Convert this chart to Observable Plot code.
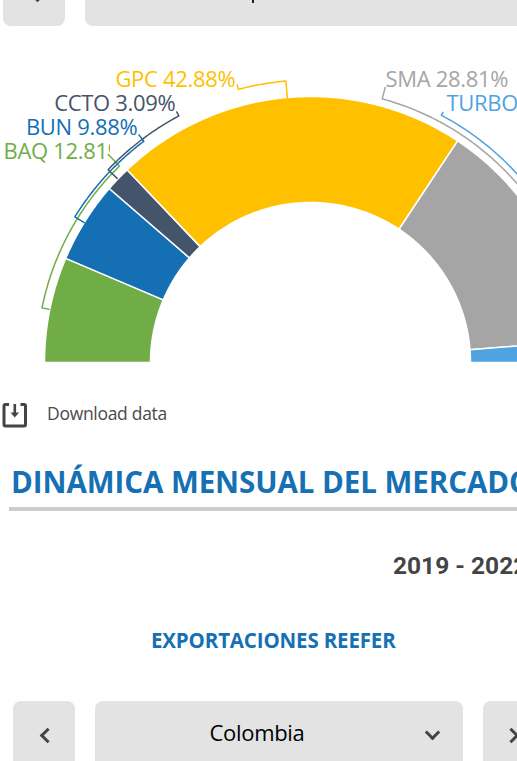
<!DOCTYPE html>
<html lang="es">
<head>
<meta charset="utf-8">
<title>Dinámica mensual del mercado</title>
<script src="https://cdn.jsdelivr.net/npm/d3@7"></script>
<script src="https://cdn.jsdelivr.net/npm/@observablehq/plot@0.6"></script>
<style>
html,body{margin:0;padding:0;background:#fff;width:517px;height:761px;overflow:hidden;font-family:"Open Sans",sans-serif}
#page{position:relative;width:517px;height:761px;overflow:hidden}
#chart{position:absolute;left:0;top:0}
#chart svg{display:block;background:transparent}
#chart svg text{letter-spacing:-0.300px}
.abs{position:absolute;white-space:nowrap}
.btn{position:absolute;background:#e3e3e3;border-radius:8px}
.chev{position:absolute;width:8px;height:8px;border-left:3px solid #444;border-bottom:3px solid #444}
</style>
</head>
<body>
<div id="page">
  <div class="btn" style="left:3px;top:-40px;width:62px;height:66px"></div>
  <div class="btn" style="left:85px;top:-40px;width:460px;height:66px"></div>
  <div class="chev" style="left:32px;top:-11px;transform:rotate(45deg)"></div>
  <div class="abs" style="left:252px;top:0;width:2px;height:3px;background:#222"></div>
  <div id="chart"></div>

  <svg class="abs" style="left:2px;top:402px" width="26" height="26" viewBox="0 0 26 26">
    <path d="M7 2.500H3.500a1.500 1.500 0 0 0-1.500 1.500V22.500a1.500 1.500 0 0 0 1.500 1.500H22a1.500 1.500 0 0 0 1.500-1.500V4a1.500 1.500 0 0 0-1.500-1.500H18.500" fill="none" stroke="#444" stroke-width="3"/>
    <path d="M12.800 2v10" stroke="#444" stroke-width="2.600" fill="none"/>
    <path d="M8.500 10.500h8.600l-4.300 5z" fill="#444"/>
  </svg>
  <div class="abs" style="left:47px;top:401px;font-size:17.500px;line-height:24px;color:#4a4a4a;letter-spacing:-0.300px">Download data</div>

  <div class="abs" style="left:11px;top:462px;font-size:29.500px;line-height:40px;font-weight:700;color:#1570b4;letter-spacing:-0.050px">DINÁMICA MENSUAL DEL MERCADO</div>
  <div class="abs" style="left:9px;top:507px;width:520px;height:4px;background:#cfcbcb"></div>

  <div class="abs" style="left:393px;top:552px;font-family:Roboto,sans-serif;font-size:24.500px;line-height:28px;font-weight:700;color:#444">2019 - 2022</div>
  <div class="abs" style="left:151px;top:626px;font-size:20.500px;line-height:28px;font-weight:700;color:#1570b4;letter-spacing:-0.150px">EXPORTACIONES REEFER</div>

  <div class="btn" style="left:13px;top:701px;width:62px;height:90px"></div>
  <div class="btn" style="left:95px;top:701px;width:368px;height:90px"></div>
  <div class="btn" style="left:483px;top:701px;width:62px;height:90px"></div>
  <div class="abs" style="left:95px;top:716px;width:324px;text-align:center;font-size:22px;line-height:32px;color:#000;letter-spacing:-0.300px">Colombia</div>
  <div class="chev" style="left:42px;top:730px;transform:rotate(45deg)"></div>
  <div class="chev" style="left:427px;top:727px;transform:rotate(-45deg)"></div>
  <div class="chev" style="left:506px;top:730px;transform:rotate(225deg)"></div>
</div>
<script>
// Data
const ports = ["BAQ", "BUN", "CCTO", "GPC", "SMA", "TURBO"];
const shares = [12.81, 9.88, 3.09, 42.88, 28.81, 2.53];
const shareLabels = ["12.81%", "9.88%", "3.09%", "42.88%", "28.81%", "2.53%"];
const colors = ["#70ad47", "#156fb5", "#44546a", "#ffc000", "#a5a5a5", "#4ea3e0"];

// Ring geometry, in pixels of the chart's linear scales
const innerRadius = 160, outerRadius = 266;
const svgWidth = 517, svgHeight = 400, centerX = 310, centerY = 362;

// Leader brackets: angle measured clockwise from the left end of the half ring
const bracketFrom  = [11.5, 31.7, 43.6, 85.0, 105.2, 117.9];
const bracketTo    = [45.8, 53.0, 61.9, 75.2, 165.0, 172.0];
const bracketStart = [267, 266, 267, 265, 285, 283];
const bracketArc   = [274, 277, 279.500, 282.500, 273.200, 279.700];
const bracketEnd   = [290, 285, 284, 287, 273.200, 279.700];

// Label anchors in chart units; the first label is cut off by the plot area's edge
const labelX = [-307, -173, -135, -75, 75, 136];
const labelY = [211, 235, 259, 283, 283, 259];
const labelAnchor = ["start", "end", "end", "end", "start", "start"];
const cutX = [-200, -185], cutY = [202, 221];

const toPoint = (deg, r) => {
  const a = deg * Math.PI / 180;
  return {x: -r * Math.cos(a), y: r * Math.sin(a)};
};

const total = d3.sum(shares);
const cumulative = d3.cumsum(shares);
const slices = ports.flatMap((name, i) => {
  const a0 = (cumulative[i] - shares[i]) / total * 180;
  const a1 = cumulative[i] / total * 180;
  const n = Math.max(2, Math.ceil((a1 - a0) * 2));
  const angles = d3.range(n + 1).map(k => a0 + (a1 - a0) * k / n);
  const outer = angles.map(a => toPoint(a, outerRadius));
  const inner = angles.slice().reverse().map(a => toPoint(a, innerRadius));
  const ring = [...outer, ...inner, outer[0]];
  return ring.map(p => ({...p, name}));
});

const brackets = ports.flatMap((name, i) => {
  const a0 = bracketFrom[i], a1 = bracketTo[i];
  const n = Math.ceil(Math.abs(a1 - a0) * 2);
  const arc = d3.range(n + 1).map(k => toPoint(a0 + (a1 - a0) * k / n, bracketArc[i]));
  const pts = [toPoint(a0, bracketStart[i]), ...arc, toPoint(a1, bracketEnd[i])];
  return pts.map(p => ({...p, name}));
});

const labels = ports.map((name, i) => ({
  name,
  text: `${name} ${shareLabels[i]}`,
  x: labelX[i],
  y: labelY[i],
  anchor: labelAnchor[i]
}));

const textFont = {fontFamily: "Open Sans, sans-serif", fontSize: 22, lineAnchor: "middle"};

const chart = Plot.plot({
  width: svgWidth,
  height: svgHeight,
  margin: 0,
  x: {domain: [-centerX, svgWidth - centerX], range: [0, svgWidth], axis: null},
  y: {domain: [centerY - svgHeight, centerY], range: [svgHeight, 0], axis: null},
  color: {domain: ports, range: colors},
  style: {background: "transparent"},
  marks: [
    Plot.line(slices, {x: "x", y: "y", z: "name", fill: "name", stroke: "white", strokeWidth: 1.500, curve: "linear"}),
    Plot.text(labels.filter(d => d.anchor === "end"), {x: "x", y: "y", text: "text", fill: "name", textAnchor: "end", ...textFont}),
    Plot.text(labels.filter(d => d.anchor === "start"), {x: "x", y: "y", text: "text", fill: "name", textAnchor: "start", ...textFont}),
    Plot.rect([0], {x1: cutX[0], x2: cutX[1], y1: cutY[0], y2: cutY[1], fill: "white"}),
    Plot.line(brackets, {x: "x", y: "y", z: "name", stroke: "name", strokeWidth: 1.500, curve: "linear"})
  ]
});
document.getElementById("chart").appendChild(chart);
</script>
</body>
</html>
